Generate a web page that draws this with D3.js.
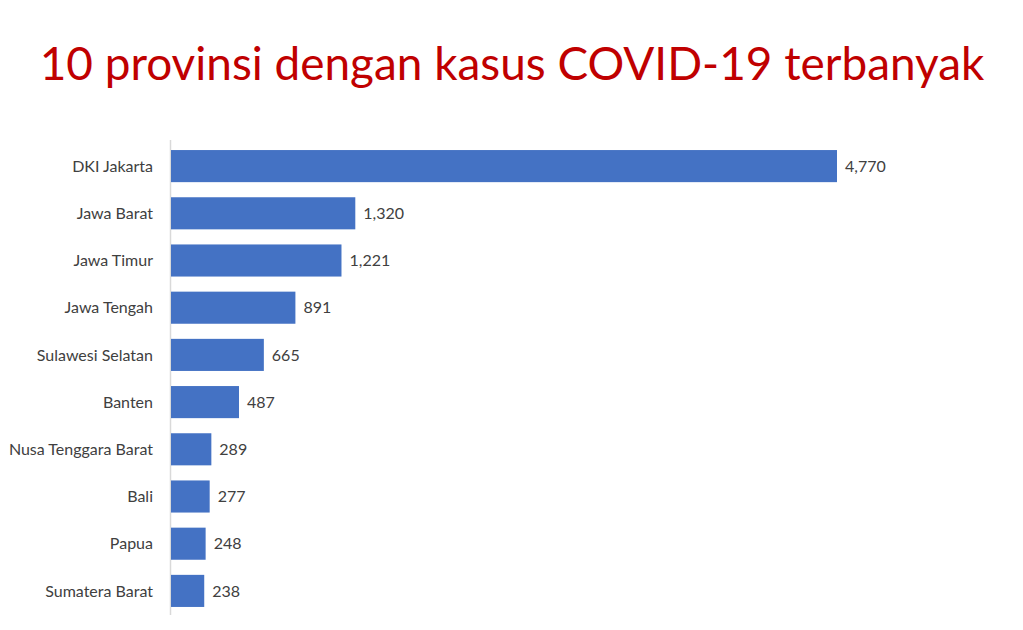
<!DOCTYPE html>
<html><head><meta charset="utf-8">
<script src="https://cdn.jsdelivr.net/npm/d3@7"></script>
<style>body{margin:0;background:#fff;}svg{display:block;}</style>
</head><body>
<svg id="c" width="1023" height="630"></svg>
<script>
const provinces = ["DKI Jakarta","Jawa Barat","Jawa Timur","Jawa Tengah","Sulawesi Selatan","Banten","Nusa Tenggara Barat","Bali","Papua","Sumatera Barat"];
const cases = [4770,1320,1221,891,665,487,289,277,248,238];
const titleText = "10 provinsi dengan kasus COVID-19 terbanyak";

const svg = d3.select("#c");
const font = "Lato, 'Open Sans', sans-serif";

const title = svg.append("text").attr("x",512).attr("y",80).attr("text-anchor","middle")
  .attr("font-family",font).attr("font-size",48).attr("fill","#C00000")
  .text(titleText);
const tw = title.node().getComputedTextLength();
if (tw > 0) title.attr("font-size", Math.min(52, 48 * 945 / tw));

const x = d3.scaleLinear().domain([0,4770]).range([171,837]);
const y = d3.scaleBand().domain(provinces).range([142.5,614.5]).paddingInner(0.32).paddingOuter(0.16);

svg.append("line").attr("x1",170.5).attr("x2",170.5).attr("y1",140).attr("y2",615)
  .attr("stroke","#d9d9d9").attr("stroke-width",1.5);

const data = provinces.map((p,i)=>({p,v:cases[i]}));
svg.selectAll("rect.bar").data(data).join("rect").attr("class","bar")
  .attr("x",x(0)).attr("y",d=>y(d.p)).attr("width",d=>x(d.v)-x(0)).attr("height",y.bandwidth())
  .attr("fill","#4472C4");

svg.selectAll("text.cat").data(data).join("text").attr("class","cat")
  .attr("x",153).attr("y",d=>y(d.p)+y.bandwidth()/2).attr("dy","0.35em")
  .attr("text-anchor","end").attr("font-family",font).attr("font-size",16).attr("fill","#404040")
  .text(d=>d.p);

const fmt = d3.format(",");
svg.selectAll("text.val").data(data).join("text").attr("class","val")
  .attr("x",d=>x(d.v)+8).attr("y",d=>y(d.p)+y.bandwidth()/2).attr("dy","0.35em")
  .attr("font-family",font).attr("font-size",16).attr("fill","#404040")
  .text(d=>fmt(d.v));
</script>
</body></html>
